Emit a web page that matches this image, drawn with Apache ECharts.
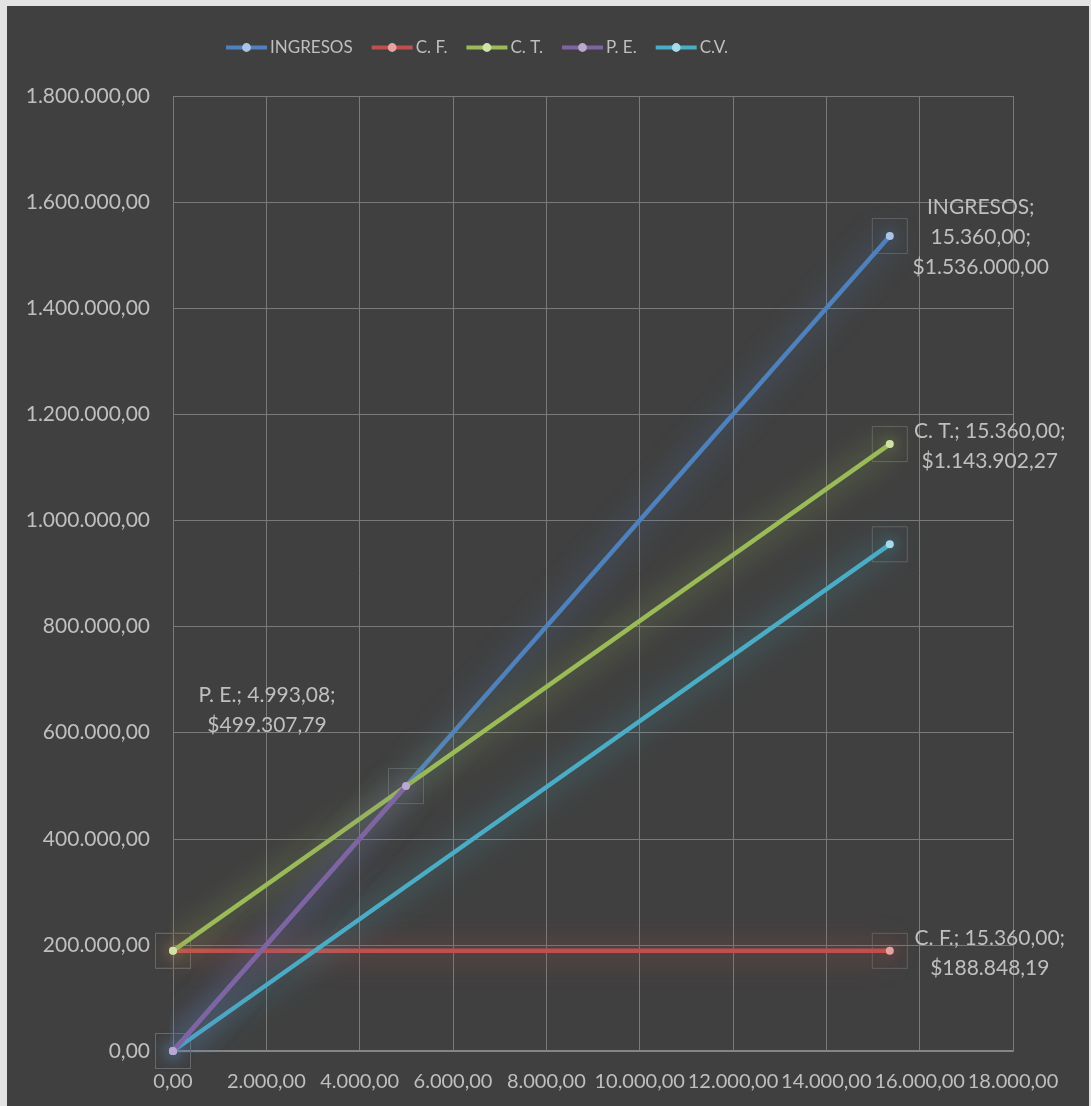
<!DOCTYPE html>
<html>
<head>
<meta charset="utf-8">
<script src="https://cdn.jsdelivr.net/npm/echarts@6/dist/echarts.min.js"></script>
<style>
html,body{margin:0;padding:0;background:#e3e3e3;width:1091px;height:1106px;overflow:hidden;}
#c{position:absolute;left:7px;top:6px;width:1082px;height:1100px;background:#404040;}
</style>
</head>
<body>
<div id="c"></div>
<script>
// ---- data ----
const seriesNames = ['INGRESOS', 'C. F.', 'C. T.', 'P. E.', 'C.V.'];
const ingresosX = [0, 15360];
const ingresosY = [0, 1536000];
const cfX = [0, 15360];
const cfY = [188848.19, 188848.19];
const ctX = [0, 15360];
const ctY = [188848.19, 1143902.27];
const peX = [0, 4993.08];
const peY = [0, 499307.79];
const cvX = [0, 15360];
const cvY = [0, 955054.08];
const xTicks = [0, 2000, 4000, 6000, 8000, 10000, 12000, 14000, 16000, 18000];
const yTicks = [0, 200000, 400000, 600000, 800000, 1000000, 1200000, 1400000, 1600000, 1800000];

function fmt(v) {
  const neg = v < 0; v = Math.abs(v);
  let s = v.toFixed(2);
  let [i, d] = s.split('.');
  i = i.replace(/\B(?=(\d{3})+(?!\d))/g, '.');
  return (neg ? '-' : '') + i + ',' + d;
}

const FONT = 'Lato';
const TXT = '#bfbfbf';
const FS = 21;

const colors = ['#4f81bd', '#c0504d', '#9bbb59', '#8064a2', '#4bacc6'];
const markerColors = ['#a9c4e6', '#e8a3a1', '#cfe3a6', '#baa8d3', '#a3dcea'];
const glowColors = ['rgba(79,129,189,0.95)', 'rgba(192,80,77,0.95)', 'rgba(155,187,89,0.95)', 'rgba(128,100,162,0.95)', 'rgba(75,172,198,0.95)'];

const labelCfg = [
  {idx: 1, offset: [91, 1], text: (x, y) => 'INGRESOS;\n' + fmt(x) + ';\n$' + fmt(y)},
  {idx: 1, offset: [100, 2], text: (x, y) => 'C. F.; ' + fmt(x) + ';\n$' + fmt(y)},
  {idx: 1, offset: [100, 2], text: (x, y) => 'C. T.; ' + fmt(x) + ';\n$' + fmt(y)},
  {idx: 1, offset: [-139, -76], text: (x, y) => 'P. E.; ' + fmt(x) + ';\n$' + fmt(y)},
  null
];

const xs = [ingresosX, cfX, ctX, peX, cvX];
const ys = [ingresosY, cfY, ctY, peY, cvY];

const series = [];
seriesNames.forEach((name, k) => {
  const data = xs[k].map((x, i) => {
    const item = {value: [x, ys[k][i]]};
    const lc = labelCfg[k];
    if (lc && lc.idx === i) {
      item.label = {
        show: true,
        position: 'inside',
        align: 'center',
        verticalAlign: 'middle',
        offset: lc.offset,
        formatter: lc.text(x, ys[k][i]),
        color: TXT,
        fontFamily: FONT,
        fontSize: FS,
        lineHeight: 30
      };
    }
    return item;
  });
  series.push({
    name: name,
    type: 'line',
    data: data,
    symbol: 'circle',
    symbolSize: 8,
    showSymbol: true,
    animation: false,
    z: 3 + (k === 3 ? 1 : 0),
    lineStyle: {width: 4.5, color: colors[k], shadowBlur: 30, shadowColor: glowColors[k]},
    itemStyle: {color: markerColors[k], borderWidth: 0, shadowBlur: 16, shadowColor: glowColors[k]},
    label: {show: false},
    emphasis: {disabled: true}
  });
});

const boxPts = [];
seriesNames.forEach((n, k) => { xs[k].forEach((x, i) => boxPts.push([x, ys[k][i]])); });
series.push({
  name: 'boxes',
  type: 'scatter',
  data: boxPts,
  symbol: 'rect',
  symbolSize: 35,
  silent: true,
  animation: false,
  z: 1,
  itemStyle: {color: 'rgba(0,0,0,0)', borderColor: '#6a6a6a', borderWidth: 1}
});

const chart = echarts.init(document.getElementById('c'), null, {renderer: 'canvas'});
chart.setOption({
  backgroundColor: '#404040',
  color: colors,
  legend: {
    data: seriesNames.map((n, k) => ({name: n, itemStyle: {color: markerColors[k]}, lineStyle: {color: colors[k], width: 4}})),
    top: 28,
    left: 212,
    itemWidth: 41,
    itemHeight: 11,
    itemGap: 17,
    textStyle: {color: TXT, fontFamily: FONT, fontSize: 17, padding: [0, 0, 0, -2]}
  },
  grid: {left: 166, right: 76, top: 90, bottom: 55, containLabel: false},
  xAxis: {
    type: 'value',
    min: xTicks[0],
    max: xTicks[xTicks.length - 1],
    interval: xTicks[1] - xTicks[0],
    axisLine: {show: true, onZero: false, lineStyle: {color: '#858585', width: 2}},
    axisTick: {show: false},
    splitLine: {show: true, lineStyle: {color: '#7a7a7a', width: 1}},
    axisLabel: {color: TXT, fontFamily: FONT, fontSize: 20, margin: 21, showMaxLabel: true, showMinLabel: true, formatter: v => fmt(v)}
  },
  yAxis: {
    type: 'value',
    min: yTicks[0],
    max: yTicks[yTicks.length - 1],
    interval: yTicks[1] - yTicks[0],
    axisLine: {show: false},
    axisTick: {show: false},
    splitLine: {show: true, lineStyle: {color: '#7a7a7a', width: 1}},
    axisLabel: {color: TXT, fontFamily: FONT, fontSize: FS, margin: 23, showMaxLabel: true, formatter: v => fmt(v)}
  },
  series: series
});
</script>
</body>
</html>
